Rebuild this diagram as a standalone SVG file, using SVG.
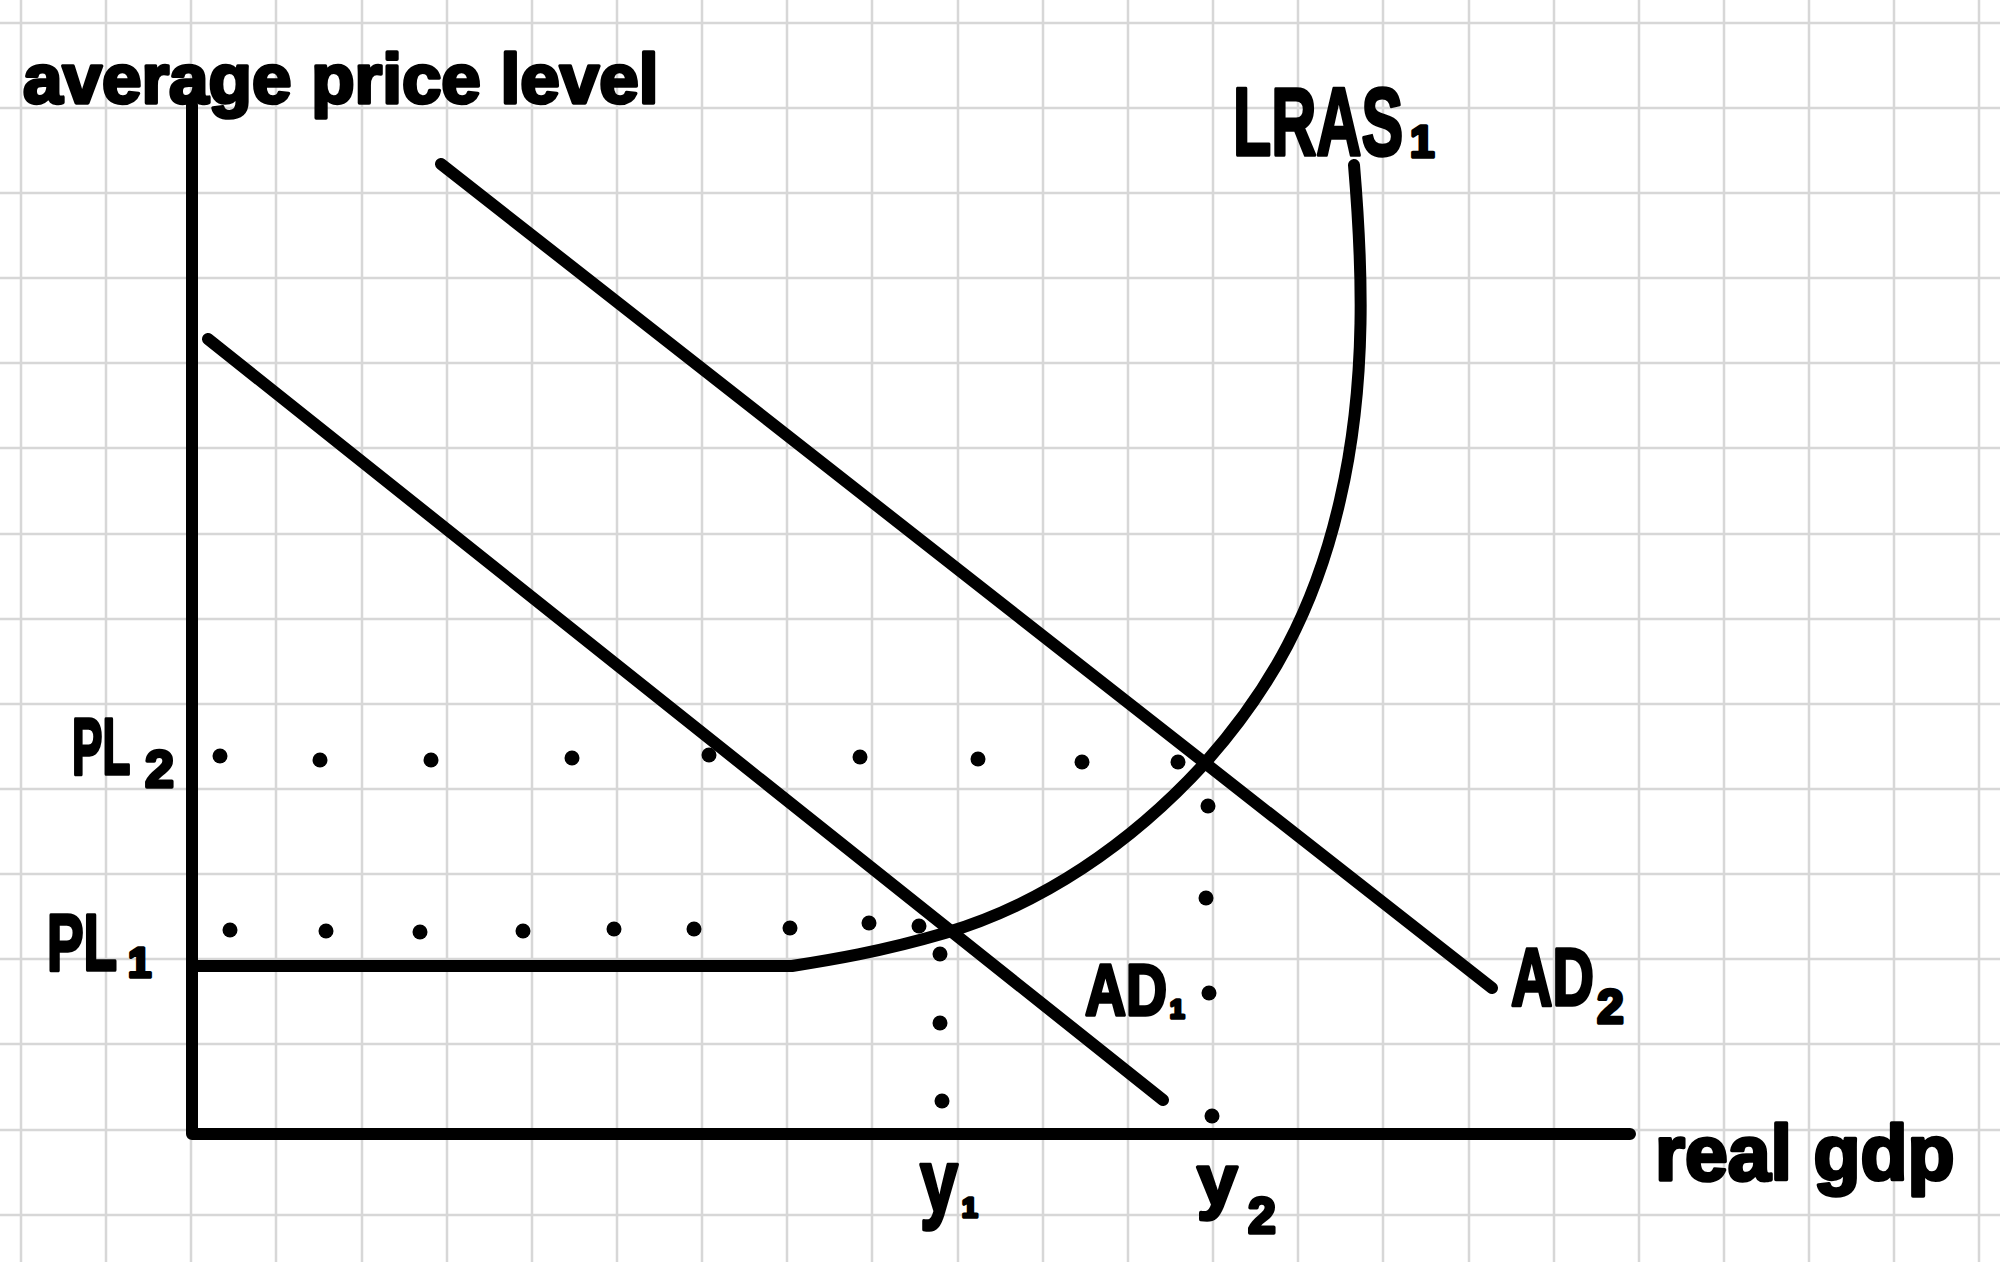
<svg xmlns="http://www.w3.org/2000/svg" width="2000" height="1262" viewBox="0 0 2000 1262">
<defs>
<style>
.grid{fill:none;stroke:#d7d7d7;stroke-width:2.5}
.ink{fill:none;stroke:#000;stroke-width:12;stroke-linecap:round;stroke-linejoin:round}
.dot{fill:#000}
.lbl{font-family:"Liberation Sans",Arial,sans-serif;font-weight:700;fill:#000;stroke:#000;stroke-width:3.5;stroke-linejoin:round}
</style>
</defs>
<rect width="2000" height="1262" fill="#fff"/>
<path class="grid" d="M21 0V1262M106 0V1262M191 0V1262M276 0V1262M362 0V1262M447 0V1262M532 0V1262M617 0V1262M702 0V1262M787 0V1262M872 0V1262M958 0V1262M1043 0V1262M1128 0V1262M1213 0V1262M1298 0V1262M1383 0V1262M1469 0V1262M1554 0V1262M1639 0V1262M1724 0V1262M1809 0V1262M1894 0V1262M1979 0V1262M0 23H2000M0 108H2000M0 193H2000M0 278H2000M0 363H2000M0 448H2000M0 534H2000M0 619H2000M0 704H2000M0 789H2000M0 874H2000M0 959H2000M0 1044H2000M0 1130H2000M0 1215H2000"/>

<g id="connectors">
  <path id="axes" class="ink" d="M192 105V1134H1630"/>
  <path id="ad1-line" class="ink" d="M208 339L1163 1100"/>
  <path id="ad2-line" class="ink" d="M441 164L1492 988"/>
  <path id="lras-curve" class="ink" d="M1354 165C1362 260 1368 380 1340 500C1315 610 1270 690 1205 763C1130 845 1040 905 945 933C880 952 830 960 792 966L192 966"/>
  <g id="guides" class="dot">
    <circle cx="220" cy="756" r="7.5"/><circle cx="320" cy="760" r="7.5"/><circle cx="431" cy="760" r="7.5"/><circle cx="572" cy="758" r="7.5"/><circle cx="709" cy="755" r="7.5"/><circle cx="860" cy="757" r="7.5"/><circle cx="978" cy="759" r="7.5"/><circle cx="1082" cy="762" r="7.5"/><circle cx="1178" cy="762" r="7.5"/>
    <circle cx="1208" cy="806" r="7.5"/><circle cx="1206" cy="898" r="7.5"/><circle cx="1209" cy="993" r="7.5"/><circle cx="1212" cy="1116" r="7.5"/>
    <circle cx="230" cy="930" r="7.5"/><circle cx="326" cy="931" r="7.5"/><circle cx="420" cy="932" r="7.5"/><circle cx="523" cy="931" r="7.5"/><circle cx="614" cy="929" r="7.5"/><circle cx="694" cy="929" r="7.5"/><circle cx="790" cy="928" r="7.5"/><circle cx="869" cy="923" r="7.5"/><circle cx="919" cy="926" r="7.5"/>
    <circle cx="940" cy="954" r="7.5"/><circle cx="940" cy="1023" r="7.5"/><circle cx="942" cy="1101" r="7.5"/>
  </g>
</g>

<g id="label-y-axis"><text class="lbl" x="23" y="103" font-size="71">average price level</text></g>
<g id="label-x-axis"><text class="lbl" x="1655" y="1180" font-size="77">real gdp</text></g>
<g id="label-lras">
  <text class="lbl" font-size="96" transform="translate(1233,155) scale(0.651,1)">LRAS</text>
  <text class="lbl" x="1410" y="157" font-size="44">1</text>
</g>
<g id="label-pl2">
  <text class="lbl" font-size="80" transform="translate(72,774) scale(0.57,1)">PL</text>
  <text class="lbl" x="145" y="787" font-size="52">2</text>
</g>
<g id="label-pl1">
  <text class="lbl" font-size="80" transform="translate(47,970) scale(0.686,1)">PL</text>
  <text class="lbl" x="128" y="977" font-size="42">1</text>
</g>
<g id="label-ad1">
  <text class="lbl" font-size="72" transform="translate(1085,1015) scale(0.789,1)">AD</text>
  <text class="lbl" x="1170" y="1018" font-size="26">1</text>
</g>
<g id="label-ad2">
  <text class="lbl" font-size="82" transform="translate(1511,1005) scale(0.70,1)">AD</text>
  <text class="lbl" x="1597" y="1023" font-size="48">2</text>
</g>
<g id="label-y1">
  <text class="lbl" font-size="89" transform="translate(920,1211) scale(0.768,1)">y</text>
  <text class="lbl" x="962" y="1217" font-size="28">1</text>
</g>
<g id="label-y2">
  <text class="lbl" x="1197" y="1205" font-size="73">y</text>
  <text class="lbl" x="1248" y="1233" font-size="50">2</text>
</g>
</svg>
